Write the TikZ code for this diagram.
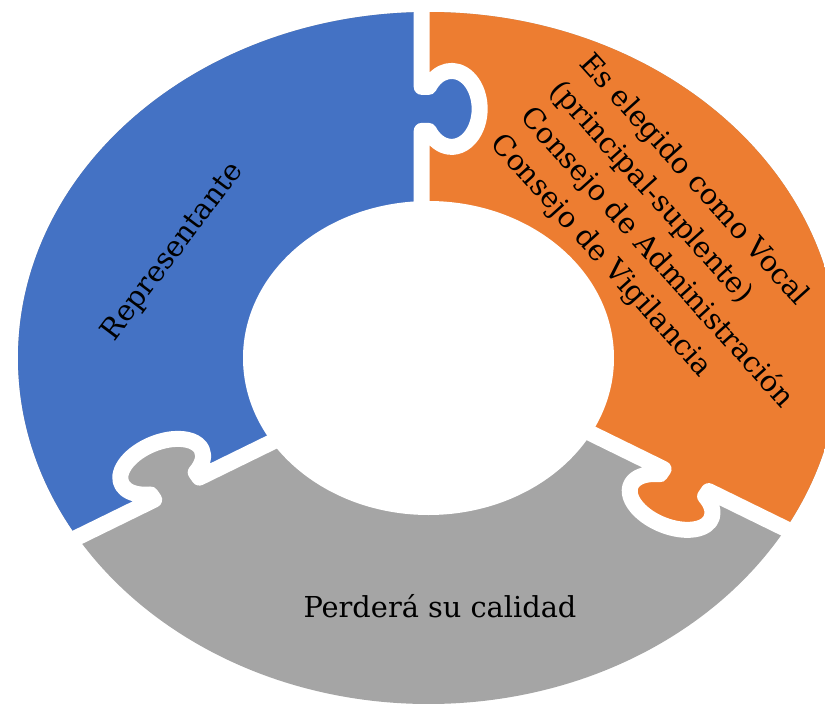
\documentclass[tikz,border=0pt]{standalone}
\usepackage{fontspec}
\setmainfont{DejaVu Serif}
\usepackage{xcolor}
\usepackage{tikz}

\definecolor{pieceblue}{HTML}{4472C4}
\definecolor{pieceorange}{HTML}{ED7D31}
\definecolor{piecegray}{HTML}{A5A5A5}

\begin{document}
\begin{tikzpicture}[x=0.025cm, y=0.025cm,
      cut/.style={draw=white, line width=4mm, line join=round},
      txt/.style={font=\fontsize{20.5}{28.5}\selectfont, inner sep=0pt}
    ]
    \useasboundingbox (0,0) rectangle (825,-704);

    \begin{scope}
      \clip (428.5,-358) ellipse [x radius=410.5, y radius=346];
      \fill[piecegray] (-20,20) rectangle (900,-760);
      \fill[pieceblue] (421.7,50) -- (-100,50) -- (-100,-624.2) -- (421.7,-368.7) -- cycle;
      \fill[pieceorange] (421.7,50) -- (950,50) -- (950,-605.7) -- (421.7,-350.5) -- cycle;
    \end{scope}
    \fill[white] (428.5,-358) ellipse [x radius=185.5, y radius=157];

    % puzzle tabs, drawn on the unit circle and stretched to the ring
    \begin{scope}[shift={(428.5,-358)}, xscale=410.5, yscale=346]
      \foreach \ang/\off/\col in {90/0.0166/pieceblue, 210.16/0.0184/piecegray, 329.82/0.0106/pieceorange} {
        \begin{scope}[rotate=\ang]
          \fill[\col] (0.7836,\off+0.02) -- (0.7836,\off-0.0175) arc[start angle=54.6, end angle=-234.6, x radius=0.1098, y radius=0.0682] -- (0.6564,\off+0.02) -- cycle;
          \draw[cut] (1.2,\off) -- (0.7836,\off) -- (0.7836,\off-0.0175) arc[start angle=54.6, end angle=-234.6, x radius=0.1098, y radius=0.0682] -- (0.6564,\off) -- (0.3,\off);
        \end{scope}
      }
    \end{scope}

    \node[txt, rotate=53] (repr) at (173,-252) {Representante};
    \node[txt, rotate=-48, align=left] (vocal) at (671,-245) {Es elegido como Vocal\\(principal-suplente)\\Consejo de Administración\\Consejo de Vigilancia};
    \node[txt, anchor=base] (perdera) at (440,-617) {Perderá su calidad};
\end{tikzpicture}
\end{document}
